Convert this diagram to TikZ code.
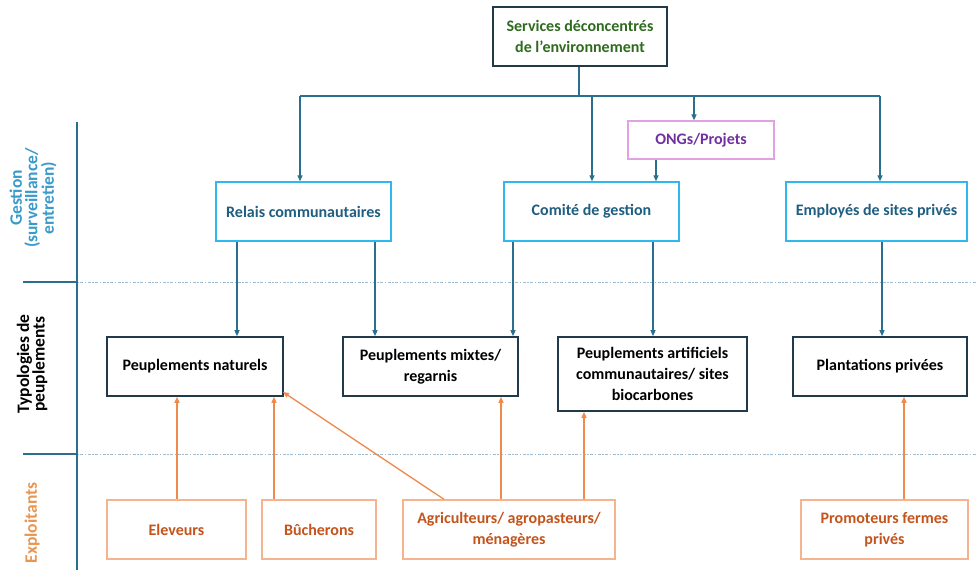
\documentclass[tikz,border=0pt]{standalone}
\usepackage{fontspec}
\setmainfont{Carlito}
\usetikzlibrary{arrows.meta}
\definecolor{darkb}{HTML}{22394A}
\definecolor{cblue}{HTML}{2B6F8E}
\definecolor{lblue}{HTML}{2FB8EC}
\definecolor{tblue}{HTML}{1F5E80}
\definecolor{gtxt}{HTML}{2E6B1E}
\definecolor{pinkb}{HTML}{E2A2E2}
\definecolor{ptxt}{HTML}{7030A0}
\definecolor{oline}{HTML}{F08A4B}
\definecolor{obord}{HTML}{F6B48E}
\definecolor{otxt}{HTML}{C4541C}
\definecolor{gest}{HTML}{3A9AC9}
\definecolor{expl}{HTML}{E8954F}
\definecolor{dotc}{HTML}{9FBBD0}
\tikzset{
  base/.style={rectangle, align=center, inner sep=2pt, fill=white, font=\fontsize{16}{21}\selectfont\bfseries},
  dbox/.style={base, draw=darkb, line width=1.6pt, text=black},
  gbox/.style={base, draw=lblue, line width=1.4pt, text=tblue},
  obox/.style={base, draw=obord, line width=1.4pt, text=otxt},
  pbox/.style={base, draw=pinkb, line width=1.2pt, text=ptxt},
  bl/.style={draw=cblue, line width=1.3pt},
  barr/.style={bl, -{Triangle[length=6pt,width=5pt]}},
  oarr/.style={draw=oline, line width=1.3pt, -{Triangle[length=6pt,width=5pt]}},
  axisl/.style={draw=cblue, line width=1.5pt},
  dotl/.style={draw=dotc, line width=0.9pt, dash pattern=on 1.5pt off 1.5pt on 3pt off 1.5pt},
  vlab/.style={rotate=90, align=center, font=\fontsize{17.5}{15.5}\selectfont\bfseries}
}
\begin{document}
\begin{tikzpicture}[x=1pt,y=-1pt]
\useasboundingbox (0,0) rectangle (976,572);
% axis
\coordinate (axT) at (77,122);
\coordinate (axB) at (77,570);
\coordinate (t1L) at (23,282);
\coordinate (t1R) at (77,282);
\coordinate (t1E) at (976,282);
\coordinate (t2L) at (23,454);
\coordinate (t2R) at (77,454);
\coordinate (t2E) at (976,454);
\draw[dotl] (t1R) -- (t1E);
\draw[dotl] (t2R) -- (t2E);
\draw[axisl] (axT) -- (axB);
\draw[axisl] (t1L) -- (t1R);
\draw[axisl] (t2L) -- (t2R);
\node[vlab, text=gest] (lgest) at (33,198) {Gestion\\(surveillance/\\entretien)};
\node[vlab, text=black] (ltyp) at (32,364) {Typologies de\\peuplements};
\node[vlab, text=expl] (lexp) at (32,523) {Exploitants};
% boxes
\node[dbox, text=gtxt, minimum width=174pt, minimum height=59pt] (top) at (580,36.5) {Services déconcentrés\\de l’environnement};
\node[pbox, minimum width=146pt, minimum height=38pt] (ongs) at (701,140) {ONGs/Projets};
\node[gbox, minimum width=175pt, minimum height=59pt] (relais) at (303.5,211.5) {Relais communautaires};
\node[gbox, minimum width=175pt, minimum height=59pt] (comite) at (591.5,211.5) {Comité de gestion};
\node[gbox, minimum width=181pt, minimum height=59pt] (empl) at (876.5,211.5) {Employés de sites privés};
\node[dbox, minimum width=176pt, minimum height=59pt] (nat) at (195,366.5) {Peuplements naturels};
\node[dbox, minimum width=175pt, minimum height=59pt] (mix) at (430.5,366.5) {Peuplements mixtes/\\regarnis};
\node[dbox, minimum width=189pt, minimum height=74pt] (art) at (652.5,374) {Peuplements artificiels\\communautaires/ sites\\biocarbones};
\node[dbox, minimum width=174pt, minimum height=59pt] (plant) at (880,366.5) {Plantations privées};
\node[obox, minimum width=139pt, minimum height=59pt] (elev) at (176.5,529.5) {Eleveurs};
\node[obox, minimum width=114pt, minimum height=59pt] (buch) at (319,529.5) {Bûcherons};
\node[obox, minimum width=212pt, minimum height=59pt] (agri) at (509,529.5) {Agriculteurs/ agropasteurs/\\ménagères};
\node[obox, minimum width=167pt, minimum height=59pt] (promo) at (884.5,529.5) {Promoteurs fermes\\privés};
% top connectors
\coordinate (hub) at (579,96);
\coordinate (hL) at (300,96);
\coordinate (hR) at (880,96);
\coordinate (hC) at (592,96);
\coordinate (hO) at (694,96);
\draw[bl] (top.south -| hub) -- (hub);
\draw[bl] (hL) -- (hR);
\draw[barr] (hL) -- (relais.north -| hL);
\draw[barr] (hC) -- (comite.north -| hC);
\draw[barr] (hO) -- (ongs.north -| hO);
\draw[barr] (hR) -- (empl.north -| hR);
\draw[barr] (ongs.south -| 656,0) -- (comite.north -| 656,0);
% management to stands
\draw[barr] (relais.south -| 237,0) -- (nat.north -| 237,0);
\draw[barr] (relais.south -| 375,0) -- (mix.north -| 375,0);
\draw[barr] (comite.south -| 513,0) -- (mix.north -| 513,0);
\draw[barr] (comite.south -| 653,0) -- (art.north -| 653,0);
\draw[barr] (empl.south -| 882,0) -- (plant.north -| 882,0);
% exploiters
\coordinate (natc) at (283,392);
\draw[oarr] (elev.north -| 177,0) -- (nat.south -| 177,0);
\draw[oarr] (buch.north -| 274,0) -- (nat.south -| 274,0);
\draw[oarr] (agri.north -| 444,0) -- (natc);
\draw[oarr] (agri.north -| 501,0) -- (mix.south -| 501,0);
\draw[oarr] (agri.north -| 584,0) -- (art.south -| 584,0);
\draw[oarr] (promo.north -| 904,0) -- (plant.south -| 904,0);
\end{tikzpicture}
\end{document}
